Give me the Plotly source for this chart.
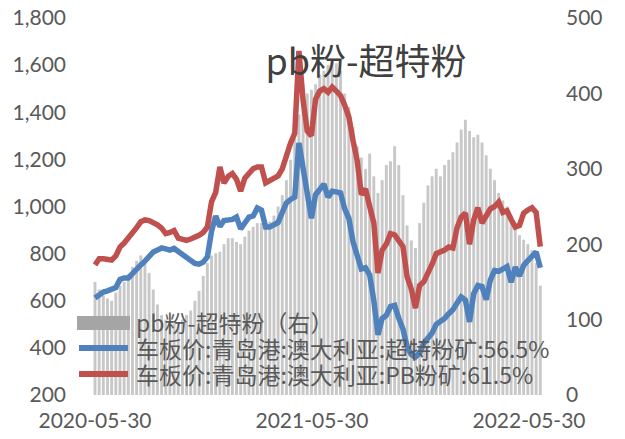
import pandas as pd
import plotly.graph_objects as go

# ---- data (weekly samples) ----
start_date = "2020-05-30"
n_weeks = 108

pb_price = [752, 778, 778, 773, 773, 790, 828, 845, 865, 888,
            910, 935, 943, 940, 934, 922, 908, 885, 890, 898,
            866, 862, 856, 862, 868, 878, 890, 913, 1020, 1060,
            1168, 1100, 1128, 1140, 1115, 1065, 1120, 1140, 1160, 1168,
            1168, 1100, 1110, 1118, 1130, 1160, 1220, 1270, 1310, 1660,
            1450, 1320, 1300, 1455, 1490, 1500, 1485, 1507, 1490, 1470,
            1430, 1380, 1280, 1195, 1050, 1075, 1000, 930, 718, 815,
            840, 885, 880, 850, 830, 701, 650, 569, 665, 680,
            715, 755, 800, 805, 815, 828, 824, 910, 955, 972,
            840, 943, 995, 930, 960, 990, 1000, 1019, 975, 982,
            945, 913, 920, 972, 985, 995, 975, 830]

ssf_price = [612, 625, 637, 642, 648, 656, 690, 697, 697, 718,
             735, 752, 768, 790, 807, 815, 824, 820, 815, 822,
             808, 794, 784, 772, 758, 755, 764, 786, 895, 960,
             915, 940, 943, 945, 955, 905, 930, 955, 960, 994,
             985, 913, 913, 920, 932, 975, 1015, 1030, 1040, 1270,
             1168, 1040, 950, 1050, 1075, 1095, 1040, 1065, 1062, 1057,
             990, 950, 850, 785, 735, 740, 710, 600, 455, 525,
             538, 575, 580, 525, 480, 405, 372, 361, 378, 420,
             440, 463, 500, 512, 525, 545, 562, 590, 616, 603,
             510, 630, 665, 660, 605, 688, 728, 725, 735, 745,
             678, 743, 705, 750, 770, 785, 807, 740]

spread = [150, 140, 132, 128, 125, 136, 145, 150, 160, 170,
          178, 185, 175, 162, 140, 120, 106, 100, 98, 95,
          95, 100, 106, 112, 125, 138, 158, 175, 185, 188,
          190, 200, 208, 208, 203, 200, 210, 218, 223, 228,
          228, 225, 230, 238, 250, 265, 285, 312, 340, 372,
          390, 400, 405, 412, 425, 430, 438, 442, 440, 430,
          400, 382, 355, 330, 315, 300, 320, 290, 268, 285,
          305, 310, 330, 305, 265, 225, 205, 195, 228, 255,
          278, 290, 300, 290, 305, 312, 322, 335, 352, 365,
          350, 342, 345, 335, 318, 300, 285, 268, 258, 250,
          235, 225, 212, 206, 200, 192, 175, 145]

x_ticks = ["2020-05-30", "2021-05-30", "2022-05-30"]
left_ticks = [200, 400, 600, 800, 1000, 1200, 1400, 1600, 1800]
right_ticks = [0, 100, 200, 300, 400, 500]

name_bar = "pb粉-超特粉（右）"
name_blue = "车板价:青岛港:澳大利亚:超特粉矿:56.5%"
name_red = "车板价:青岛港:澳大利亚:PB粉矿:61.5%"
title_text = "pb粉-超特粉"

dates = pd.date_range(start_date, periods=n_weeks, freq="7D")

# ---- style ----
BLUE = "#4F81BD"
RED = "#C0504D"
BAR = "#C8C8C8"
TXT = "#595959"
FONT = "Noto Sans CJK SC, Lato, sans-serif"
TICKFONT = dict(family="Lato, sans-serif", size=21, color=TXT)

fig = go.Figure()
# bars on the primary axis (drawn first, right side); lines on the overlaying left axis
fig.add_trace(go.Bar(x=dates, y=spread, name=name_bar, yaxis="y",
                     marker=dict(color=BAR, line=dict(width=0)),
                     showlegend=False))
fig.add_trace(go.Scatter(x=dates, y=ssf_price, name=name_blue, mode="lines", yaxis="y2",
                         line=dict(color=BLUE, width=5.5), showlegend=False))
fig.add_trace(go.Scatter(x=dates, y=pb_price, name=name_red, mode="lines", yaxis="y2",
                         line=dict(color=RED, width=5.5), showlegend=False))

# page body has an 8px margin: size the figure so it fits the 625x439 window
OFF = 8
W, H = 625 - OFF, 439 - OFF
L, R, T, B = 93 - OFF, 78, 18 - OFF, 44
pw, ph = W - L - R, H - T - B

def px(xw):
    # window x pixel -> paper fraction
    return (xw - OFF - L) / pw

def py(yw):
    # window y pixel -> paper fraction
    return (H - B - (yw - OFF)) / ph

# custom legend drawn over the plot
shapes = [
    dict(type="rect", xref="paper", yref="paper", x0=px(77), x1=px(130),
         y0=py(330), y1=py(316), fillcolor="#A5A5A5", line=dict(width=0), layer="above"),
    dict(type="line", xref="paper", yref="paper", x0=px(79), x1=px(128),
         y0=py(348), y1=py(348), line=dict(color=BLUE, width=6), layer="above"),
    dict(type="line", xref="paper", yref="paper", x0=px(79), x1=px(128),
         y0=py(374), y1=py(374), line=dict(color=RED, width=6), layer="above"),
]
annotations = [
    dict(text=t, xref="paper", yref="paper", x=px(134), y=py(yc),
         xanchor="left", yanchor="middle", showarrow=False,
         font=dict(family=FONT, size=23, color=TXT))
    for t, yc in [(name_bar, 322), (name_blue, 348), (name_red, 374)]
]

fig.update_layout(
    width=W, height=H,
    margin=dict(l=L, r=R, t=T, b=B, autoexpand=False),
    paper_bgcolor="white", plot_bgcolor="white",
    bargap=0.3,
    showlegend=False,
    title=dict(text=title_text, x=px(366), xref="paper", xanchor="center",
               y=1 - (62 - OFF) / H, yref="container", yanchor="middle",
               font=dict(family=FONT, size=36, color="#404040")),
    xaxis=dict(type="date", automargin=False, ticklabeloverflow="allow",
               range=["2020-05-26 15:00", "2022-06-29 07:00"],
               tickvals=x_ticks, ticktext=x_ticks,
               showgrid=False, zeroline=False, showline=False, ticks="",
               ticklabelstandoff=11, tickfont=TICKFONT),
    yaxis=dict(range=[0, 500], tickvals=right_ticks, side="right", automargin=False,
               ticklabeloverflow="allow",
               showgrid=False, zeroline=False, showline=False, ticks="",
               ticklabelstandoff=18, tickfont=TICKFONT),
    yaxis2=dict(range=[200, 1800], tickvals=left_ticks, tickformat=",",
                overlaying="y", side="left", automargin=False,
                ticklabeloverflow="allow",
                showgrid=False, zeroline=False, showline=False, ticks="",
                ticklabelstandoff=26, tickfont=TICKFONT),
    shapes=shapes,
    annotations=annotations,
)

fig.write_html("out.html")
